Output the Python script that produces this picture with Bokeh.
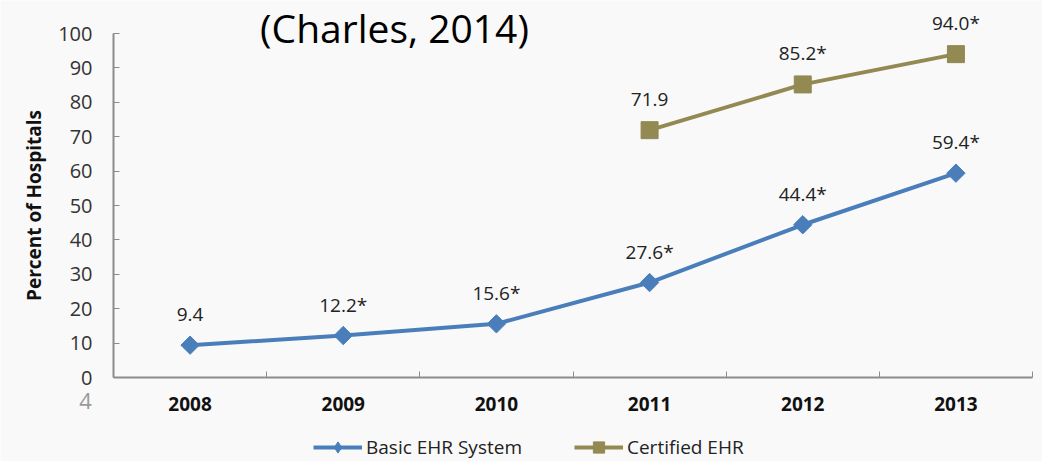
import math
import numpy as np
from bokeh.plotting import figure
from bokeh.models import FixedTicker, Label, Legend, LegendItem, ColumnDataSource, Range1d
from bokeh.core.properties import value
from bokeh.embed import file_html
from bokeh.resources import INLINE

years = ["2008", "2009", "2010", "2011", "2012", "2013"]
basic_values = [9.4, 12.2, 15.6, 27.6, 44.4, 59.4]
basic_labels = ["9.4", "12.2*", "15.6*", "27.6*", "44.4*", "59.4*"]
cert_years = ["2011", "2012", "2013"]
cert_values = [71.9, 85.2, 94.0]
cert_labels = ["71.9", "85.2*", "94.0*"]
y_ticks = [0, 10, 20, 30, 40, 50, 60, 70, 80, 90, 100]

FONT = "Open Sans"
BLUE = "#4A7EBB"
OLIVE = "#938953"
BG = "#f9f9f9"

W, H = 1042, 461
# plot area (pixels) of the axes inside the full-canvas frame
AX_L, AX_R, AX_T, AX_B = 113, 1032, 33, 377
n = len(years)
sx = (AX_R - AX_L) / n
x0 = -0.5 - AX_L / sx
x1 = -0.5 + (W - AX_L) / sx
sy = (AX_B - AX_T) / 100.0
y0 = -(H - AX_B) / sy
y1 = AX_B / sy

xi = list(range(n))
cxi = [years.index(y) for y in cert_years]

p = figure(width=W, height=H, output_backend="svg", toolbar_location=None,
           x_range=Range1d(x0, x1), y_range=Range1d(y0, y1),
           min_border=0)
p.background_fill_color = BG
p.border_fill_color = BG
p.outline_line_color = None
p.grid.visible = False

basic_src = ColumnDataSource(dict(x=xi, y=basic_values, t=basic_labels))
cert_src = ColumnDataSource(dict(x=cxi, y=cert_values, t=cert_labels))

bl = p.line("x", "y", source=basic_src, line_color=BLUE, line_width=4)
bm = p.scatter("x", "y", source=basic_src, marker="square", angle=math.pi / 4, size=13,
               fill_color=BLUE, line_color=BLUE)
cl = p.line("x", "y", source=cert_src, line_color=OLIVE, line_width=4)
cm = p.scatter("x", "y", source=cert_src, marker="square", size=17, fill_color=OLIVE, line_color=OLIVE)
# legend-only swatch (a NaN point, never drawn) so the legend shows a diamond like the reference
key_src = ColumnDataSource(dict(x=np.array([np.nan]), y=np.array([np.nan])))
bkey = p.scatter("x", "y", source=key_src, marker="diamond", size=16, fill_color=BLUE, line_color=BLUE)

for src in (basic_src, cert_src):
    p.text("x", "y", text="t", source=src, y_offset=-31, text_align="center", text_baseline="middle",
           text_font=value(FONT), text_font_size="19px", text_color="#222222")

# axes (drawn at fixed data locations inside the full-canvas frame)
xa = p.xaxis[0]
xa.fixed_location = 0
xa.bounds = (-0.5, n - 0.5)
xa.ticker = FixedTicker(ticks=xi, minor_ticks=[i - 0.5 for i in range(n + 1)])
xa.major_label_overrides = {i: y for i, y in enumerate(years)}
xa.major_tick_in = 0
xa.major_tick_out = 0
xa.minor_tick_in = 6
xa.minor_tick_out = 0
xa.minor_tick_line_color = "#8c8c8c"
xa.axis_line_color = "#8c8c8c"
xa.axis_line_width = 2
xa.major_label_standoff = 19
xa.major_label_text_font = FONT
xa.major_label_text_font_style = "bold"
xa.major_label_text_font_size = "19px"
xa.major_label_text_color = "#111111"

ya = p.yaxis[0]
ya.fixed_location = -0.5
ya.bounds = (0, 100)
ya.ticker = FixedTicker(ticks=y_ticks, minor_ticks=[])
ya.major_tick_in = 6
ya.major_tick_out = 0
ya.major_tick_line_color = "#8c8c8c"
ya.axis_line_color = "#8c8c8c"
ya.axis_line_width = 2
ya.major_label_standoff = 21
ya.major_label_text_font = FONT
ya.major_label_text_font_size = "20px"
ya.major_label_text_color = "#333333"
ya.axis_label = "Percent of Hospitals"
ya.axis_label_text_font = FONT
ya.axis_label_text_font_style = "bold"
ya.axis_label_text_font_size = "19px"
ya.axis_label_text_color = "#111111"
ya.axis_label_standoff = 8

legend = Legend(items=[LegendItem(label="Basic EHR System", renderers=[bl, bkey]),
                       LegendItem(label="Certified EHR", renderers=[cl, cm])],
                location=(313, 0), orientation="horizontal", spacing=52,
                glyph_width=49, glyph_height=28, label_standoff=4,
                label_text_font=FONT, label_text_font_size="19px", label_text_color="#222222",
                background_fill_alpha=0, border_line_color=None, padding=0, margin=0)
p.add_layout(legend)

p.add_layout(Label(x=394, y=H - 27, x_units="screen", y_units="screen", text="(Charles, 2014)",
                   text_align="center", text_baseline="middle", text_font=FONT,
                   text_font_size="39px", text_color="#000000"))
p.add_layout(Label(x=85, y=H - 400, x_units="screen", y_units="screen", text="4",
                   text_align="center", text_baseline="middle", text_font=FONT,
                   text_font_size="22px", text_color="#9a9a9a"))

open("out.html", "w").write(file_html(p, INLINE))
